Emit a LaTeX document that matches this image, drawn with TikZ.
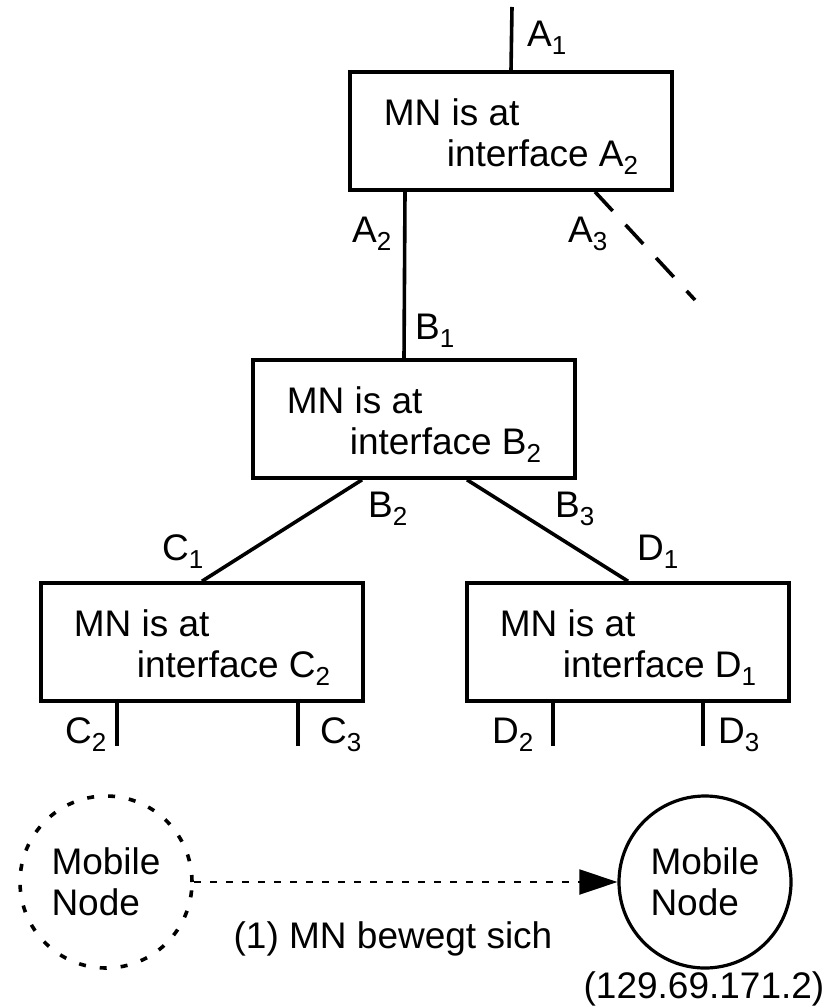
\documentclass[tikz,border=0pt]{standalone}
\usepackage{fontspec}
\setmainfont{Liberation Sans}
\usetikzlibrary{calc,arrows.meta}

\newcommand{\ifsub}[1]{\raisebox{-8pt}{\fontsize{26}{26}\selectfont #1}}

\begin{document}
\begin{tikzpicture}[x=1pt,y=-1pt,font=\fontsize{37}{41}\selectfont]

  \tikzstyle{router}=[draw,line width=3.6pt,rectangle,minimum width=322pt,minimum height=118pt,inner sep=0pt,align=left]
  \tikzstyle{link}=[line width=3.6pt]
  \tikzstyle{port}=[anchor=base west,inner sep=0pt]
  \tikzstyle{host}=[draw,circle,line width=3.2pt,minimum size=172pt,inner sep=0pt,align=left]
  \tikzstyle{move}=[line width=2pt,dash pattern=on 7pt off 9pt,-{Triangle[length=38pt,width=25pt]}]

  \useasboundingbox (0,0) rectangle (827,1008);

  % ====================
  % Parameters
  % ====================
  \def\indent{63pt}  % Indent of the second text line
  \def\porth{43}     % Length of the stub lines below the routers
  % ====================


  % ====================
  % Routers
  % ====================
  \node (routerA) [router] at (511,131) {\rule{0pt}{38pt}MN is at\\\hspace*{\indent}interface A\ifsub{2}};
  \node (routerB) [router] at (414,419) {\rule{0pt}{38pt}MN is at\\\hspace*{\indent}interface B\ifsub{2}};
  \node (routerC) [router] at (202,642) {\rule{0pt}{38pt}MN is at\\\hspace*{\indent}interface C\ifsub{2}};
  \node (routerD) [router] at (628,642) {\rule{0pt}{38pt}MN is at\\\hspace*{\indent}interface D\ifsub{1}};

  % Uplink and dashed side link
  \coordinate (inA) at (512,7);
  \coordinate (outA) at (695,300);
  \draw[link] (inA) -- (routerA.north);
  \draw[link,dash pattern=on 26pt off 19pt] ([xshift=84pt]routerA.south) -- (outA);

  % Links between routers
  \draw[link] ([xshift=-106pt]routerA.south) -- ([xshift=-10pt]routerB.north);
  \draw[link] ([xshift=-52pt]routerB.south) -- (routerC.north);
  \draw[link] ([xshift=53pt]routerB.south) -- (routerD.north);

  % Stubs
  \draw[link] ([xshift=-85pt]routerC.south) -- ++(0,\porth);
  \draw[link] ([xshift=96pt]routerC.south) -- ++(0,\porth);
  \draw[link] ([xshift=-75pt]routerD.south) -- ++(0,\porth);
  \draw[link] ([xshift=75pt]routerD.south) -- ++(0,\porth);

  % Interface labels
  \node (lblA1) [port] at (527,47) {A\ifsub{1}};
  \node (lblA2) [port] at (352,242) {A\ifsub{2}};
  \node (lblA3) [port] at (568,242) {A\ifsub{3}};
  \node (lblB1) [port] at (415,339) {B\ifsub{1}};
  \node (lblB2) [port] at (368,517) {B\ifsub{2}};
  \node (lblB3) [port] at (555,517) {B\ifsub{3}};
  \node (lblC1) [port] at (162,560) {C\ifsub{1}};
  \node (lblD1) [port] at (637,560) {D\ifsub{1}};
  \node (lblC2) [port] at (65,743) {C\ifsub{2}};
  \node (lblC3) [port] at (320,743) {C\ifsub{3}};
  \node (lblD2) [port] at (492,743) {D\ifsub{2}};
  \node (lblD3) [port] at (718,743) {D\ifsub{3}};

  % ====================
  % Mobile node
  % ====================
  \node (mnOld) [host,dash pattern=on 7pt off 14pt,line width=3.6pt] at (106,882) {Mobile\\Node};
  \node (mnNew) [host] at (705,882) {Mobile\\Node};
  \draw[move] (mnOld.east) -- (mnNew.west);

  \node (moveLbl) [anchor=base,inner sep=0pt] at (393,948) {(1) MN bewegt sich};
  \node (addrLbl) [anchor=base,inner sep=0pt] at (704,998) {(129.69.171.2)};
\end{tikzpicture}
\end{document}
